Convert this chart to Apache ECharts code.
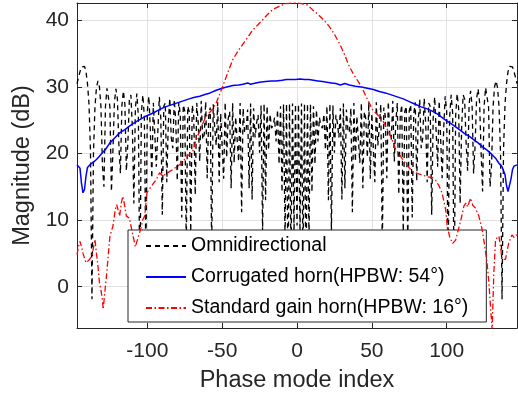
<!DOCTYPE html>
<html><head><meta charset="utf-8">
<script src="https://cdn.jsdelivr.net/npm/echarts@6/dist/echarts.min.js"></script>
<style>html,body{margin:0;padding:0;background:#fff}#c{width:518px;height:398px}</style>
</head><body><div id="c"></div>
<script>
// Omnidirectional: magnitude (dB) at each phase mode index from -147 to 147
const modeMin = -147;
const omniMag = [
30.5,31.4,32.3,33.0,33.3,33.1,32.3,30.5,27.5,20.5,
-1.9,20.0,27.0,29.9,30.9,30.0,27.0,18.2,15.0,27.0,
29.8,29.9,27.0,14.3,20.3,27.7,29.7,28.2,21.2,17.0,
27.2,29.4,27.4,17.4,21.6,28.2,28.8,23.9,12.5,26.8,
29.0,25.6,-1.0,26.1,28.8,25.5,4.4,26.4,28.6,23.6,
16.3,27.6,27.9,18.0,23.2,28.5,25.3,10.8,27.1,27.6,
15.7,24.5,28.3,22.3,20.8,28.1,24.8,15.9,27.7,25.9,
10.4,27.3,26.4,6.2,27.1,26.3,8.3,27.3,25.7,13.8,
27.6,24.6,18.8,27.9,22.1,22.8,27.8,16.3,25.6,26.9,
5.7,27.4,24.0,21.2,27.7,15.7,26.0,26.0,16.2,27.7,
19.4,25.2,26.3,14.8,27.6,18.6,25.5,25.6,18.8,27.6,
11.2,26.8,23.1,23.6,26.6,14.8,27.5,13.1,26.8,22.4,
24.6,25.8,20.1,27.2,8.3,27.5,13.0,27.1,20.5,25.9,
23.8,24.2,25.4,21.8,26.6,18.4,27.1,14.2,27.4,7.1,
27.5,0.5,27.5,4.1,27.5,8.2,27.4,
9.2,
27.4,8.2,27.5,4.1,27.5,0.5,27.5,7.1,27.4,14.2,
27.1,18.4,26.6,21.8,25.4,24.2,23.8,25.9,20.5,27.1,
13.0,27.5,8.3,27.2,20.1,25.8,24.6,22.4,26.8,13.1,
27.5,14.8,26.6,23.6,23.1,26.8,11.2,27.6,18.8,25.6,
25.5,18.6,27.6,14.8,26.3,25.2,19.4,27.7,16.2,26.0,
26.0,15.7,27.7,21.2,24.0,27.4,5.7,26.9,25.6,16.3,
27.8,22.8,22.1,27.9,18.8,24.6,27.6,13.8,25.7,27.3,
8.3,26.3,27.1,6.2,26.4,27.3,10.4,25.9,27.7,15.9,
24.8,28.1,20.8,22.3,28.3,24.5,15.7,27.6,27.1,10.8,
25.3,28.5,23.2,18.0,27.9,27.6,16.3,23.6,28.6,26.4,
4.4,25.5,28.8,26.1,-1.0,25.6,29.0,26.8,12.5,23.9,
28.8,28.2,21.6,17.4,27.4,29.4,27.2,17.0,21.2,28.2,
29.7,27.7,20.3,14.3,27.0,29.9,29.8,27.0,15.0,18.2,
27.0,30.0,30.9,29.9,27.0,20.0,-1.9,20.5,27.5,30.5,
32.3,33.1,33.3,33.0,32.3,31.4,30.5
];
const omniModes = omniMag.map((_, i) => modeMin + i);

// Corrugated horn
const hornX = [-147,-146,-145,-144,-143,-142,-141,-140,-138,-136,-134,-132,-130,-128,-125,-122,-118.5,-115,-112,-108,-105,-101,-98,-95,-92,-88,-84,-80,-76,-72,-69,-65,-61,-58,-54,-50,-47,-43,-39,-36,-33,-31,-29,-25,-21,-17,-14,-10,-7,-4,-1,2,5,8,11,14,17,20,23,26,29,32,35,39,43,47,51,55,59,63,67,71,75,79,83,87,90,94,97,100,103,106,109,112,115,118,121,124,127,130,133,135,137,138,139,140,141,142,143,144,145,147];
const hornY = [18.3,18.6,17.8,15.5,14.1,14.6,16.6,17.9,18.4,18.7,19.1,19.6,20.1,20.6,21.6,22.3,23.1,23.6,24.1,24.7,25.1,25.6,25.9,26.2,26.6,27.0,27.3,27.6,27.9,28.2,28.4,28.6,28.9,29.1,29.5,29.8,30.0,30.2,30.3,30.4,30.6,30.4,30.5,30.7,30.8,30.9,30.9,31.0,31.1,31.1,31.1,31.2,31.1,31.1,31.0,30.9,30.8,30.7,30.6,30.5,30.3,30.5,30.3,30.1,30.0,29.8,29.6,29.3,29.1,28.8,28.5,28.2,27.8,27.4,27.0,26.7,26.4,25.9,25.4,24.9,24.5,24.0,23.5,23.0,22.6,22.1,21.6,21.0,20.5,19.9,19.2,18.5,18.0,17.8,16.8,15.2,14.3,14.4,16.2,17.6,18.1,18.3];

// Standard gain horn
const sghX = [-147,-146,-145,-144,-143,-141,-139,-137,-135.5,-135,-134,-133,-132,-131,-130,-129.5,-128.5,-127.3,-126,-125,-123,-121.5,-120.5,-119.5,-118.5,-117.5,-116.3,-115,-114,-112,-110,-108,-106,-104,-103,-101.8,-100.3,-97.3,-94,-91.8,-89.5,-87.3,-83,-78.5,-74,-69.6,-67.3,-64,-60.7,-57,-54,-51.5,-49.6,-46,-42.9,-38.5,-34,-30,-25,-20,-16.3,-12,-7.4,-3,0,3,7,10.4,14,18,21.5,25,28.2,31.5,34.9,38,41.5,44,46,48.5,50.4,53,57,59.5,61.5,64,66,68,70.4,73,77,80,83.7,87,90.4,92.6,95,97,99.3,100.4,102,104,106,108.2,110,111.5,113,114,116,117.5,119.3,121.5,123.7,125.5,127,128.2,129.3,130.4,131.5,132.7,134.9,136,137,139.3,140.5,141.5,143.7,145,147];
const sghY = [4.8,6.0,6.8,6.0,5.0,3.6,4.0,4.6,6.5,7.1,5.0,3.1,0.6,-0.5,-2.0,-3.4,-1.0,1.6,5.0,7.6,9.1,11.5,12.3,11.5,10.6,12.5,13.6,12.0,10.6,10.3,8.1,6.0,7.5,9.0,10.1,10.6,14.1,15.1,16.1,17.1,16.6,17.0,17.6,18.3,19.4,20.4,22.1,24.0,25.6,26.5,27.6,29.0,30.1,32.3,34.1,35.7,37.1,38.4,39.6,40.8,41.6,42.1,42.5,42.6,42.6,42.5,42.3,41.6,40.9,40.0,39.1,37.9,36.6,35.0,33.1,31.8,30.6,29.6,28.6,27.5,26.6,26.0,25.1,24.0,23.1,21.8,20.6,20.0,19.2,18.4,17.3,17.0,16.8,16.5,16.4,16.0,15.1,14.0,11.6,9.1,7.5,6.5,7.0,8.9,10.5,12.1,12.6,12.0,13.3,12.2,11.8,10.6,8.6,6.0,3.6,0.6,-3.0,-6.5,2.0,7.1,7.6,6.0,4.1,4.1,5.5,6.6,7.8,7.4,7.8];

const seriesNames = ['Omnidirectional', 'Corrugated horn(HPBW: 54°)', 'Standard gain horn(HPBW: 16°)'];

const axisColor = '#262626';
const font = 'Liberation Sans, Arial, Helvetica, sans-serif';
const chart = echarts.init(document.getElementById('c'), null, {renderer: 'canvas'});

function mainX() {
  return {
    type: 'value', min: -147, max: 147, position: 'bottom',
    axisLine: {show: true, onZero: false, lineStyle: {color: axisColor, width: 1}},
    axisTick: {show: true, inside: true, length: 5, lineStyle: {color: axisColor}},
    axisLabel: {fontSize: 21, color: axisColor, margin: 13, fontFamily: font, showMinLabel: false, showMaxLabel: false},
    splitLine: {show: true, lineStyle: {color: '#e1e1e1', width: 1}},
    name: 'Phase mode index', nameLocation: 'middle', nameGap: 41,
    nameTextStyle: {fontSize: 23.5, color: axisColor, fontFamily: font}
  };
}
function mirrorAxis(base, pos) {
  return Object.assign({}, base, {
    position: pos, name: '', axisLabel: {show: false}, splitLine: {show: false}
  });
}
const xMain = mainX();
const yMain = {
  type: 'value', min: -6.2, max: 42.6, position: 'left',
  axisLine: {show: true, onZero: false, lineStyle: {color: axisColor, width: 1}},
  axisTick: {show: true, inside: true, length: 5, lineStyle: {color: axisColor}},
  axisLabel: {fontSize: 21, color: axisColor, margin: 8, fontFamily: font, showMinLabel: false, showMaxLabel: false},
  splitLine: {show: true, lineStyle: {color: '#e1e1e1', width: 1}},
  name: 'Magnitude (dB)', nameLocation: 'middle', nameGap: 39,
  nameTextStyle: {fontSize: 23.5, color: axisColor, fontFamily: font}
};

chart.setOption({
  animation: false,
  backgroundColor: '#ffffff',
  textStyle: {fontFamily: font},
  grid: {left: 77, right: 1, top: 3, bottom: 70},
  xAxis: [xMain, mirrorAxis(xMain, 'top')],
  yAxis: [yMain, mirrorAxis(yMain, 'right')],
  legend: {
    data: seriesNames, orient: 'vertical', left: 128, top: 230,
    itemWidth: 40, itemHeight: 14, itemGap: 11,
    padding: [6, 18, 4, 17],
    backgroundColor: '#ffffff', borderColor: axisColor, borderWidth: 1, borderRadius: 0,
    itemStyle: {opacity: 0},
    textStyle: {fontSize: 19.5, color: '#000', fontFamily: font},
    selectedMode: false
  },
  series: [
    {
      name: seriesNames[0], type: 'line', xAxisIndex: 0, yAxisIndex: 0,
      data: omniModes.map((m, i) => [m, omniMag[i]]),
      symbol: 'none', clip: true, z: 2,
      lineStyle: {color: '#000000', width: 1.3, type: [5, 4]},
      itemStyle: {color: '#000000'}
    },
    {
      name: seriesNames[1], type: 'line', xAxisIndex: 0, yAxisIndex: 0,
      data: hornX.map((x, i) => [x, hornY[i]]),
      symbol: 'none', clip: true, z: 3,
      lineStyle: {color: '#0000ff', width: 1.5},
      itemStyle: {color: '#0000ff'}
    },
    {
      name: seriesNames[2], type: 'line', xAxisIndex: 0, yAxisIndex: 0,
      data: sghX.map((x, i) => [x, sghY[i]]),
      symbol: 'none', clip: true, z: 4,
      lineStyle: {color: '#ff0000', width: 1.3, type: [6, 2.5, 1.5, 2.5]},
      itemStyle: {color: '#ff0000'}
    }
  ]
});
</script></body></html>
